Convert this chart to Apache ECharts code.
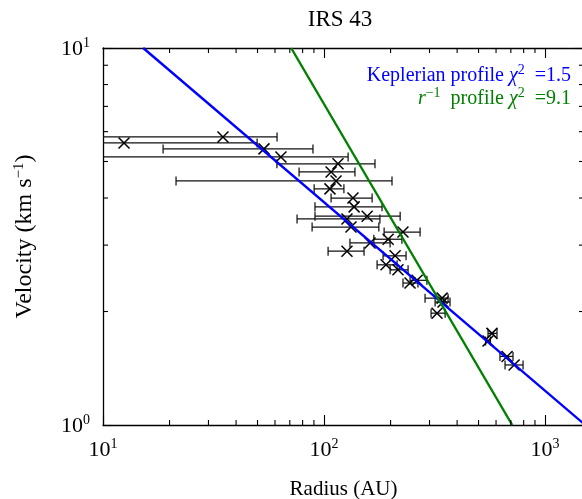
<!DOCTYPE html>
<html>
<head>
<meta charset="utf-8">
<script src="https://cdn.jsdelivr.net/npm/echarts@6/dist/echarts.min.js"></script>
<style>
  html, body { margin: 0; padding: 0; background: #fff; }
  #chart { width: 582px; height: 499px; }
</style>
</head>
<body>
<div id="chart"></div>
<script>
// Rotation curve of IRS 43: radius (AU), velocity (km/s) and the radius range of each measurement
const radius     = [12.45, 34.9, 53.5, 63.8, 115.6, 107.6, 113.3, 106.4, 135.2, 136.8, 156.7, 127, 132.4, 227.5, 195, 161.5, 127, 209.6, 190.8, 216, 263.6, 245, 342, 345.5, 324.5, 575, 552, 673, 724];
const velocity   = [5.60, 5.81, 5.40, 5.14, 4.93, 4.69, 4.44, 4.23, 4.00, 3.79, 3.58, 3.52, 3.35, 3.25, 3.11, 3.04, 2.89, 2.81, 2.66, 2.58, 2.42, 2.38, 2.17, 2.12, 1.98, 1.75, 1.67, 1.52, 1.443];
const radiusLow  = [5, 5, 18.7, 5, 61.2, 77.1, 21.4, 90.2, 107.6, 91, 91, 75.5, 88.3, 187, 168, 131, 104.3, 185, 173.8, 199, 245, 227.6, 286.4, 318, 305, 552, 538, 625, 659];
const radiusHigh = [49.8, 61.3, 89.1, 128.5, 170, 138, 203, 123, 165, 183, 221, 179, 177, 272, 225, 199, 151.7, 235, 214, 240, 292, 266, 364, 371.5, 353, 606, 566, 716, 795];

// Power-law fits, each given by two points on the line (radius, velocity)
const keplerLine  = [[15.2, 10], [1520, 1]];
const inverseLine = [[71, 10], [710, 1]];

// Axis ranges and minor tick positions
const xRange = [10, 1500];
const yRange = [1, 10];
const minorX = [20, 30, 40, 50, 60, 70, 80, 90, 200, 300, 400, 500, 600, 700, 800, 900];
const minorY = [2, 3, 4, 5, 6, 7, 8, 9];

const SERIF = '"Liberation Serif", "DejaVu Serif", serif';
const MAJOR_LEN = 10, MINOR_LEN = 5;

const points = radius.map((r, i) => [r, velocity[i], radiusLow[i], radiusHigh[i]]);

function powLabel(v) {
  const e = Math.round(Math.log10(v));
  return '{b|10}{s|' + e + '}';
}
const labelRich = {
  b: { fontFamily: SERIF, fontSize: 22, color: '#000', verticalAlign: 'bottom', lineHeight: 24 },
  s: { fontFamily: SERIF, fontSize: 14, color: '#000', verticalAlign: 'bottom', lineHeight: 24, padding: [0, 0, 10, 0] }
};

const chart = echarts.init(document.getElementById('chart'), null, { renderer: 'canvas' });

const axisCommon = {
  type: 'log',
  logBase: 10,
  axisLine: { show: true, lineStyle: { color: '#000', width: 1.3 } },
  axisTick: { show: true, inside: true, length: MAJOR_LEN, lineStyle: { color: '#000', width: 1.1 } },
  splitLine: { show: false },
  minorTick: { show: false },
  minorSplitLine: { show: false }
};

function legendRich(color) {
  return {
    t: { fontFamily: SERIF, fontSize: 20, fill: color, verticalAlign: 'bottom', lineHeight: 22 },
    i: { fontFamily: SERIF, fontSize: 20, fontStyle: 'italic', fill: color, verticalAlign: 'bottom', lineHeight: 22 },
    s: { fontFamily: SERIF, fontSize: 14, fill: color, verticalAlign: 'bottom', lineHeight: 22, padding: [0, 0, 9, 0] }
  };
}

chart.setOption({
  animation: false,
  backgroundColor: '#fff',
  title: {
    text: 'IRS 43',
    left: 335,
    top: 3,
    textAlign: 'center',
    textStyle: { fontFamily: SERIF, fontSize: 23, fontWeight: 'normal', color: '#000' }
  },
  grid: { left: 103, right: -2, top: 48, bottom: 74, containLabel: false, outerBoundsMode: 'none' },
  xAxis: [
    Object.assign({}, axisCommon, {
      position: 'bottom',
      min: xRange[0], max: xRange[1],
      name: 'Radius (AU)',
      nameLocation: 'middle',
      nameGap: 54,
      nameTextStyle: { fontFamily: SERIF, fontSize: 21, color: '#000' },
      axisLabel: { show: true, margin: 12, formatter: powLabel, rich: labelRich, showMaxLabel: false }
    }),
    Object.assign({}, axisCommon, {
      position: 'top',
      min: xRange[0], max: xRange[1],
      axisLabel: { show: false }
    })
  ],
  yAxis: [
    Object.assign({}, axisCommon, {
      position: 'left',
      min: yRange[0], max: yRange[1],
      name: 'Velocity (km s{s|−1})',
      nameLocation: 'middle',
      nameGap: 66,
      nameRotate: 90,
      nameTextStyle: {
        fontFamily: SERIF, fontSize: 24, color: '#000',
        rich: {
          s: { fontFamily: SERIF, fontSize: 15, color: '#000', padding: [0, 0, 10, 0] }
        }
      },
      axisLabel: { show: true, margin: 13, formatter: powLabel, rich: labelRich }
    }),
    Object.assign({}, axisCommon, {
      position: 'right',
      min: yRange[0], max: yRange[1],
      axisLabel: { show: false }
    })
  ],
  graphic: [
    {
      type: 'text',
      right: 11,
      top: 63,
      style: {
        text: '{t|Keplerian profile }{i|χ}{s|2}{t|  =1.5}',
        fill: '#0000ff',
        rich: legendRich('#0000ff')
      }
    },
    {
      type: 'text',
      right: 11,
      top: 86,
      style: {
        text: '{i|r}{s|−1}{t|  profile }{i|χ}{s|2}{t|  =9.1}',
        fill: '#008000',
        rich: legendRich('#008000')
      }
    }
  ],
  series: [
    {
      // horizontal error bars with caps and x-shaped markers
      type: 'custom',
      clip: true,
      z: 3,
      data: points,
      renderItem: function (params, api) {
        const r = api.value(0), v = api.value(1);
        const p = api.coord([r, v]);
        const lo = api.coord([api.value(2), v]);
        const hi = api.coord([api.value(3), v]);
        const cap = 4.5, m = 5.5;
        const bar = { stroke: '#111', lineWidth: 1.25 };
        const mark = { stroke: '#000', lineWidth: 1.5 };
        return {
          type: 'group',
          children: [
            { type: 'line', shape: { x1: lo[0], y1: p[1], x2: hi[0], y2: p[1] }, style: bar },
            { type: 'line', shape: { x1: lo[0], y1: p[1] - cap, x2: lo[0], y2: p[1] + cap }, style: bar },
            { type: 'line', shape: { x1: hi[0], y1: p[1] - cap, x2: hi[0], y2: p[1] + cap }, style: bar },
            { type: 'line', shape: { x1: p[0] - m, y1: p[1] - m, x2: p[0] + m, y2: p[1] + m }, style: mark },
            { type: 'line', shape: { x1: p[0] - m, y1: p[1] + m, x2: p[0] + m, y2: p[1] - m }, style: mark }
          ]
        };
      }
    },
    {
      name: 'Keplerian profile',
      type: 'line',
      data: keplerLine,
      showSymbol: false,
      clip: true,
      z: 4,
      lineStyle: { color: '#0000ff', width: 2.4 }
    },
    {
      name: 'r^-1 profile',
      type: 'line',
      data: inverseLine,
      showSymbol: false,
      clip: true,
      z: 4,
      lineStyle: { color: '#008000', width: 2.4 }
    },
    {
      // minor ticks along the bottom and top edges
      type: 'custom',
      clip: false,
      silent: true,
      z: 5,
      data: minorX.map(v => [v, 1]),
      renderItem: function (params, api) {
        const x = api.coord([api.value(0), yRange[0]])[0];
        const cs = params.coordSys;
        const st = { stroke: '#000', lineWidth: 1.1 };
        return {
          type: 'group',
          children: [
            { type: 'line', shape: { x1: x, y1: cs.y + cs.height, x2: x, y2: cs.y + cs.height - MINOR_LEN }, style: st },
            { type: 'line', shape: { x1: x, y1: cs.y, x2: x, y2: cs.y + MINOR_LEN }, style: st }
          ]
        };
      }
    },
    {
      // minor ticks along the left and right edges
      type: 'custom',
      clip: false,
      silent: true,
      z: 5,
      data: minorY.map(v => [10, v]),
      renderItem: function (params, api) {
        const y = api.coord([xRange[0], api.value(1)])[1];
        const cs = params.coordSys;
        const st = { stroke: '#000', lineWidth: 1.1 };
        return {
          type: 'group',
          children: [
            { type: 'line', shape: { x1: cs.x, y1: y, x2: cs.x + MINOR_LEN, y2: y }, style: st },
            { type: 'line', shape: { x1: cs.x + cs.width, y1: y, x2: cs.x + cs.width - MINOR_LEN, y2: y }, style: st }
          ]
        };
      }
    }
  ]
});
</script>
</body>
</html>
